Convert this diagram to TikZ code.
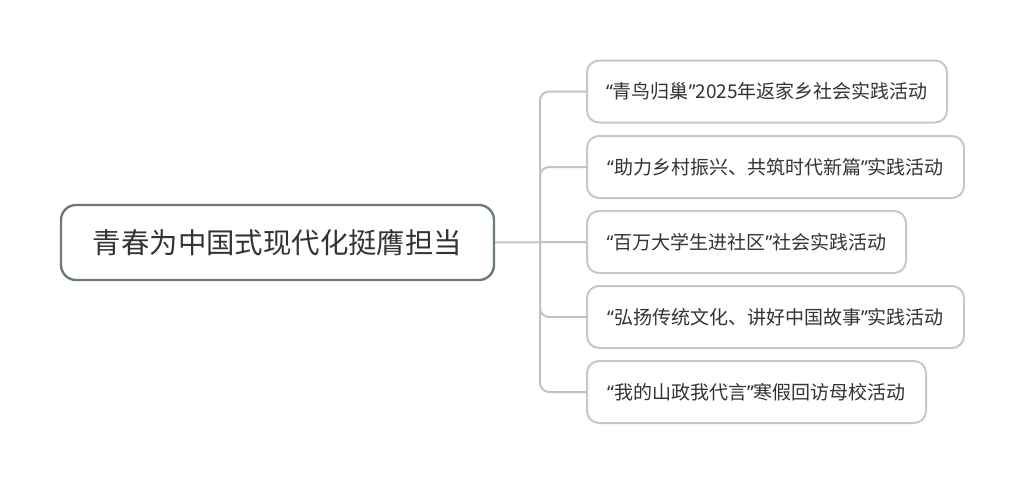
\documentclass[tikz,border=0pt]{standalone}
\usepackage{fontspec}
\setmainfont{Noto Sans CJK SC}
\newfontfamily\latq{Noto Sans}
\newcommand{\myLq}{{\latq “}}
\newcommand{\myRq}{{\latq ”}}
\definecolor{rootline}{HTML}{6B7980}
\definecolor{kidline}{HTML}{C3C9C9}
\definecolor{connline}{HTML}{BEC4C4}
\definecolor{txt}{HTML}{333333}
\tikzset{
  rootbox/.style={draw=rootline, line width=2.4pt, rounded corners=15pt, fill=white,
    minimum width=433pt, minimum height=75pt, inner sep=0pt, text=txt,
    font=\fontsize{28.4pt}{32pt}\selectfont},
  kidbox/.style={draw=kidline, line width=2pt, rounded corners=12pt, fill=white,
    minimum height=62pt, inner sep=0pt, anchor=west, text=txt,
    font=\fontsize{19pt}{23pt}\selectfont},
  conn/.style={draw=connline, line width=2pt, rounded corners=9pt},
}
\begin{document}
\begin{tikzpicture}[x=1pt,y=-1pt]
\useasboundingbox (0,0) rectangle (1024,485);
\node[rootbox] (root) at (277.5,242.5) {青春为中国式现代化挺膺担当};
\node[kidbox, minimum width=360pt] (c1) at (586,91.5) {\myLq 青鸟归巢\myRq 2025年返家乡社会实践活动};
\node[kidbox, minimum width=377pt] (c2) at (586,167) {\myLq 助力乡村振兴、共筑时代新篇\myRq 实践活动};
\node[kidbox, minimum width=319pt] (c3) at (586,242) {\myLq 百万大学生进社区\myRq 社会实践活动};
\node[kidbox, minimum width=377pt] (c4) at (586,317) {\myLq 弘扬传统文化、讲好中国故事\myRq 实践活动};
\node[kidbox, minimum width=339pt] (c5) at (586,392) {\myLq 我的山政我代言\myRq 寒假回访母校活动};
\coordinate (trunk) at (540,242);
\draw[conn] (root.east) -- (c3.west);
\draw[conn] (trunk) |- (c1.west);
\draw[conn] (trunk) |- (c2.west);
\draw[conn] (trunk) |- (c4.west);
\draw[conn] (trunk) |- (c5.west);
\end{tikzpicture}
\end{document}
